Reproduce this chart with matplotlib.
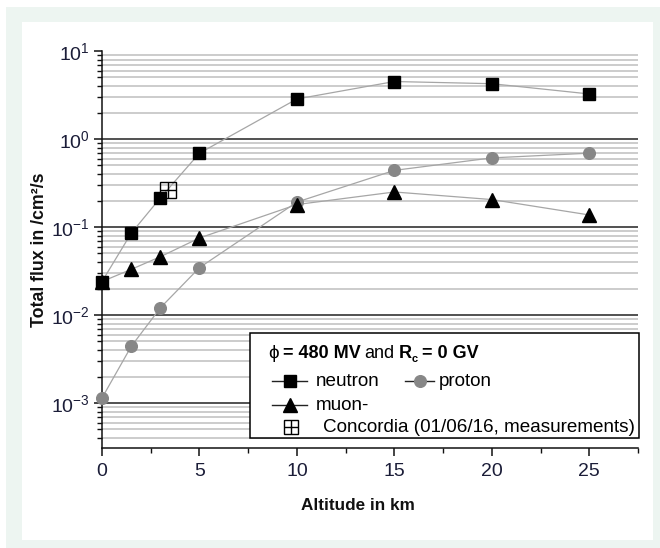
import matplotlib
matplotlib.use('Agg')
import matplotlib.pyplot as plt
from matplotlib.patches import Rectangle
from matplotlib.lines import Line2D
from matplotlib.ticker import LogLocator, MultipleLocator, NullFormatter

# ---------------- data ----------------
altitude = [0, 1.5, 3, 5, 10, 15, 20, 25]
neutron = [0.024, 0.085, 0.215, 0.69, 2.85, 4.5, 4.25, 3.25]
proton = [0.00114, 0.0044, 0.0121, 0.0345, 0.192, 0.44, 0.61, 0.69]
muon = [0.024, 0.033, 0.046, 0.075, 0.18, 0.25, 0.205, 0.137]
concordia_alt = [3.4]
concordia_flux = [0.265]

xlabel = "Altitude in km"
ylabel = "Total flux in /cm\u00b2/s"
xticks = [0, 5, 10, 15, 20, 25]

plt.rcParams['font.family'] = ['Liberation Sans', 'DejaVu Sans']
plt.rcParams['mathtext.fontset'] = 'custom'
plt.rcParams['mathtext.rm'] = 'Liberation Sans'
plt.rcParams['mathtext.it'] = 'Liberation Sans'
plt.rcParams['mathtext.bf'] = 'Liberation Sans:bold'

W, H = 660, 548
fig = plt.figure(figsize=(W / 100, H / 100), dpi=100)
fig.patch.set_facecolor('white')


def fx(px):
    return px / W


def fy(py):
    return 1 - py / H


# background frame
fig.patches.append(Rectangle((fx(6), 0), 1 - fx(6), fy(7), transform=fig.transFigure,
                             facecolor='#edf5f1', edgecolor='none', zorder=-10))
fig.patches.append(Rectangle((fx(22), fy(540)), fx(653) - fx(22), fy(22) - fy(540),
                             transform=fig.transFigure, facecolor='white',
                             edgecolor='none', zorder=-9))

ax = fig.add_axes([fx(102), fy(448), fx(638) - fx(102), fy(51) - fy(448)])
ax.set_facecolor('none')
ax.set_yscale('log')
ax.set_xlim(0, 27.5)
ax.set_ylim(3.08e-4, 10)

# grid lines (horizontal only)
ymin, ymax = ax.get_ylim()
for dec in [-4, -3, -2, -1, 0]:
    for m in range(1, 10):
        v = m * 10.0 ** dec
        if v <= ymin or v >= ymax:
            continue
        if m == 1:
            ax.axhline(v, color='#222222', lw=1.1, zorder=1)
        else:
            ax.axhline(v, color='#c8c8c8', lw=1.3, zorder=0.5)

line_kw = dict(color='#a6a6a6', lw=0.9, zorder=2)
ax.plot(altitude, proton, **line_kw)
ax.plot(altitude, muon, **line_kw)
ax.plot(altitude, neutron, **line_kw)
ax.plot(altitude, proton, ls='none', marker='o', ms=8.4, mfc='#878787', mec='#878787',
        zorder=3, clip_on=False)
ax.plot(altitude, muon, ls='none', marker='^', ms=10.5, mfc='black', mec='black',
        zorder=4, clip_on=False)
ax.plot(altitude, neutron, ls='none', marker='s', ms=8.4, mfc='black', mec='black',
        zorder=5, clip_on=False)
ax.plot(concordia_alt, concordia_flux, ls='none', marker='s', ms=11, mfc='none',
        mec='black', mew=1.0, zorder=6, clip_on=False)
ax.plot(concordia_alt, concordia_flux, ls='none', marker='+', ms=11, mec='black',
        mew=1.0, zorder=6, clip_on=False)

# spines and ticks
for s in ['top', 'right']:
    ax.spines[s].set_visible(False)
for s in ['left', 'bottom']:
    ax.spines[s].set_color('#111111')
    ax.spines[s].set_linewidth(1.1)

ax.set_xticks(xticks)
ax.xaxis.set_minor_locator(MultipleLocator(2.5))
ax.yaxis.set_major_locator(LogLocator(base=10, numticks=10))
ax.yaxis.set_minor_locator(LogLocator(base=10, subs=range(2, 10), numticks=20))
ax.yaxis.set_minor_formatter(NullFormatter())
tick_color = '#1b1d38'
ax.tick_params(axis='both', which='major', direction='out', length=6, width=1.1,
               colors='#111111', labelcolor=tick_color, labelsize=14, pad=3)
ax.tick_params(axis='both', which='minor', direction='out', length=3.5, width=1.0,
               colors='#111111')
ax.tick_params(axis='x', which='major', pad=5)

ax.set_xlabel(xlabel, fontsize=12.3, fontweight='bold', color='#111111', labelpad=12)
ax.xaxis.set_label_coords(0.478, -0.125)
ax.set_ylabel(ylabel, fontsize=12.8, fontweight='bold', color='#111111')
ax.yaxis.set_label_coords(-0.100, 0.5)

# ---------------- legend (manual) ----------------
fig.patches.append(Rectangle((fx(250), fy(438)), fx(639) - fx(250), fy(333) - fy(438),
                             transform=fig.transFigure, facecolor='white',
                             edgecolor='black', lw=1.1, zorder=5))

renderer = fig.canvas.get_renderer()


def seq_text(x_px, base_px, pieces):
    x = fx(x_px)
    for s, weight, size, dy, gap in pieces:
        t = fig.text(x, fy(base_px + dy), s, fontsize=size, fontweight=weight,
                     va='baseline', ha='left', color='black', zorder=7)
        bb = t.get_window_extent(renderer)
        x += (bb.width + gap) / W


seq_text(268, 358, [
    ("\u03d5", 'normal', 13.5, 0, 4),
    ("= 480 MV", 'bold', 13, 0, 4),
    ("and", 'normal', 13, 0, 4),
    ("R", 'bold', 13, 0, 0),
    ("c", 'bold', 8, 4, 4),
    ("= 0 GV", 'bold', 13, 0, 0),
])


def handle(x0, x1, y, marker, ms, color):
    fig.add_artist(Line2D([fx(x0), fx(x1)], [fy(y), fy(y)], transform=fig.transFigure,
                          color='#222222', lw=1.0, zorder=7))
    fig.add_artist(Line2D([fx((x0 + x1) / 2)], [fy(y)], transform=fig.transFigure,
                          marker=marker, ms=ms, mfc=color, mec=color, ls='none', zorder=8))


leg_fs = 13.6
handle(272, 307, 381, 's', 8.4, 'black')
fig.text(fx(316), fy(381), "neutron", fontsize=leg_fs, va='center', zorder=7)
handle(405, 434, 381, 'o', 8.4, '#878787')
fig.text(fx(439), fy(381), "proton", fontsize=leg_fs, va='center', zorder=7)
handle(272, 307, 405, '^', 10.5, 'black')
fig.text(fx(316), fy(405), "muon-", fontsize=leg_fs, va='center', zorder=7)
fig.add_artist(Line2D([fx(291)], [fy(427)], transform=fig.transFigure, marker='s', ms=10,
                      mfc='none', mec='black', mew=1.0, ls='none', zorder=8))
fig.add_artist(Line2D([fx(291)], [fy(427)], transform=fig.transFigure, marker='+', ms=10,
                      mec='black', mew=1.0, ls='none', zorder=8))
fig.text(fx(323), fy(427), "Concordia (01/06/16, measurements)", fontsize=leg_fs,
         va='center', zorder=7)

fig.savefig('out.png', dpi=100)
